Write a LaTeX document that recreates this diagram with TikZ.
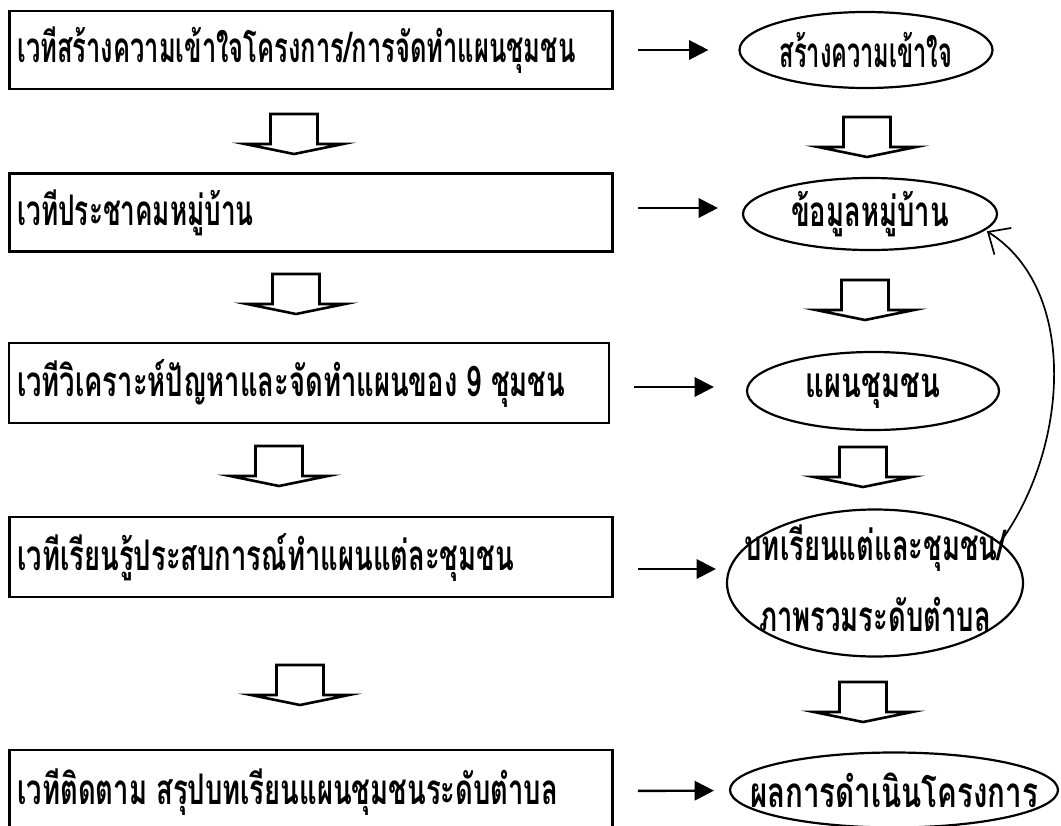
\documentclass[tikz,border=0pt]{standalone}
\usepackage{fontspec}
\usepackage{graphicx}
\newfontfamily\thaifont[Script=Thai]{Loma}
\usetikzlibrary{shapes.geometric,arrows.meta}
\newlength\px
\setlength\px{0.02cm}
\newcommand\thx[2][0.65]{\scalebox{#1}[1]{#2}}
\tikzset{
	stage/.style={draw, rectangle, line width=2.6\px, minimum height=78\px, text width=587\px, inner xsep=8\px, align=left, font=\thaifont\bfseries\fontsize{24}{29}\selectfont},
	outcome/.style={draw, ellipse, line width=2.2\px, inner sep=0pt, font=\thaifont\bfseries\fontsize{24}{33}\selectfont},
	flow/.style={line width=2.4\px, -{Triangle[length=11pt,width=11pt]}, shorten <=24\px},
	loopback/.style={line width=1.7\px, -{Straight Barb[length=10pt,width=18pt]}, shorten >=2\px},
	bigdown/.pic={\draw[line width=2.6\px, line join=miter] (-23.5,-20) -- (-23.5,10) -- (-49,10) -- (0,20) -- (49,10) -- (23.5,10) -- (23.5,-20) -- cycle;}
}
\begin{document}
\begin{tikzpicture}[x=0.02cm, y=-0.02cm]
	\useasboundingbox (0,0) rectangle (1061,825);

	\node[stage] at (311, 50) (v1) {\thx[0.605]{เวทีสร้างความเข้าใจโครงการ/การจัดทำแผนชุมชน}};
	\node[stage] at (311, 212.5) (v2) {\thx[0.62]{เวทีประชาคมหมู่บ้าน}};
	\node[stage, minimum height=80\px, text width=584\px] at (309, 383) (v3) {\thx{เวทีวิเคราะห์ปัญหาและจัดทำแผนของ 9 ชุมชน}};
	\node[stage, minimum height=80\px] at (311, 557) (v4) {\thx{เวทีเรียนรู้ประสบการณ์ทำแผนแต่ละชุมชน}};
	\node[stage, minimum height=84\px] at (311, 792) (v5) {\thx{เวทีติดตาม สรุปบทเรียนแผนชุมชนระดับตำบล}};

	\node[outcome, minimum width=253\px, minimum height=76\px] at (866, 50) (e1) {\makebox[0pt]{\thx[0.56]{สร้างความเข้าใจ}}};
	\node[outcome, minimum width=254\px, minimum height=72\px] at (870, 214) (e2) {\makebox[0pt]{\thx{ข้อมูลหมู่บ้าน}}};
	\node[outcome, minimum width=252\px, minimum height=78\px] at (873, 391) (e3) {\makebox[0pt]{\thx[0.69]{แผนชุมชน}}};
	\node[outcome, minimum width=296\px, minimum height=147\px] at (875, 583) (e4) {\smash{\makebox[0pt]{\raisebox{-7pt}{\begin{tabular}{@{}c@{}}\thx{บทเรียนแต่และชุมชน/}\\[7pt]\thx{ภาพรวมระดับตำบล}\end{tabular}}}}};
	\node[outcome, minimum width=328\px, minimum height=75\px] at (894, 790) (e5) {\makebox[0pt]{\thx[0.70]{ผลการดำเนินโครงการ}}};

	\draw[flow, shorten >=30\px] (v1) -- (e1);
	\draw[flow, shorten >=24\px] ([yshift=4.5\px]v2.east) -- ([yshift=4.5\px]v2.east -| e2.west);
	\draw[flow, shorten >=32\px] ([yshift=-4\px]v3.east) -- ([yshift=-4\px]v3.east -| e3.west);
	\draw[flow, shorten >=10\px] ([yshift=-12\px]v4.east) -- ([yshift=-12\px]v4.east -| e4.west);
	\draw[flow, shorten >=15\px] (v5) -- (e5);

	\pic at (294, 134) {bigdown};
	\pic at (296, 294) {bigdown};
	\pic at (279, 466) {bigdown};
	\pic at (300, 685) {bigdown};
	\pic at (867, 137) {bigdown};
	\pic at (865, 300) {bigdown};
	\pic at (863, 467) {bigdown};
	\pic at (863, 702) {bigdown};

	\draw[loopback] (e4.18) .. controls (1068, 450) and (1080, 290) .. (e2.-8);
\end{tikzpicture}
\end{document}
